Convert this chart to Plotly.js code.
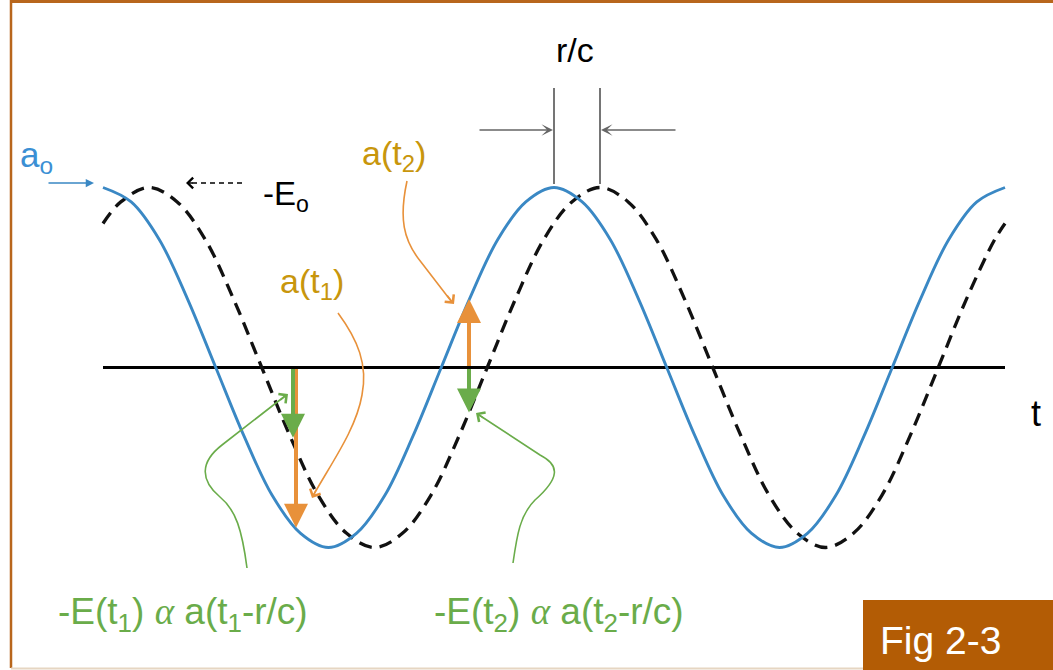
<!DOCTYPE html>
<html><head><meta charset="utf-8">
<script src="https://cdn.plot.ly/plotly-3.0.1.min.js"></script>
<style>html,body{margin:0;padding:0;background:#fff;overflow:hidden}#chart{width:1053px;height:670px}</style>
</head><body><div id="chart"></div>
<script>
// ---- data (time in periods, amplitude normalised) ----
const tA = [0,0.0625,0.125,0.1875,0.25,0.3125,0.375,0.4375,0.5,0.5625,0.625,0.6875,0.75,0.8125,0.875,0.9375,
            1,1.0625,1.125,1.1875,1.25,1.3125,1.375,1.4375,1.5,1.5625,1.625,1.6875,1.75,1.8125,1.875,1.9375,2];
const aVals = [1,0.92,0.71,0.38,0,-0.38,-0.71,-0.92,-1,-0.92,-0.71,-0.38,0,0.38,0.71,0.92,
               1,0.92,0.71,0.38,0,-0.38,-0.71,-0.92,-1,-0.92,-0.71,-0.38,0,0.38,0.71,0.92,1];
const tE = [0,0.0395,0.102,0.1645,0.227,0.2895,0.352,0.4145,0.477,0.5395,0.602,0.6645,0.727,0.7895,0.852,0.9145,0.977,
            1.0395,1.102,1.1645,1.227,1.2895,1.352,1.4145,1.477,1.5395,1.602,1.6645,1.727,1.7895,1.852,1.9145,1.977,2];
const eVals = [0.8,0.92,1,0.92,0.71,0.38,0,-0.38,-0.71,-0.92,-1,-0.92,-0.71,-0.38,0,0.38,0.71,
               0.92,1,0.92,0.71,0.38,0,-0.38,-0.71,-0.92,-1,-0.92,-0.71,-0.38,0,0.38,0.71,0.8];
const axisT = [0, 2];
const axisV = [0, 0];
const tMarks = [0.4235, 0.8115];      // t1, t2
const aAtT = [-0.89, 0.38];           // a(t1), a(t2)
const eAtT = [-0.39, -0.25];          // -E(t1), -E(t2)
const peakT = [1.0, 1.102];           // peaks of a and -E (r/c spacing)
const labels = {
  ao: 'a<sub>o</sub>', Eo: '-E<sub>o</sub>', rc: 'r/c',
  at1: 'a(t<sub>1</sub>)', at2: 'a(t<sub>2</sub>)', t: 't',
  e1: '-E(t<sub>1</sub>) <span style="font-family:\'Liberation Serif\',serif"><i>α</i></span> a(t<sub>1</sub>-r/c)',
  e2: '-E(t<sub>2</sub>) <span style="font-family:\'Liberation Serif\',serif"><i>α</i></span> a(t<sub>2</sub>-r/c)',
  fig: 'Fig 2-3'
};

// ---- styling / layout helpers ----
const W = 1053, H = 670;
const X0 = 103, PXU = 451, Y0 = 367.5, PYU = 180;
const xr = [-X0/PXU, (W-X0)/PXU];
const yr = [-(H-Y0)/PYU, Y0/PYU];
const px = x => x/W, py = y => 1 - y/H;
const BLUE = '#3a88c4', ORANGE = '#e8913a', GREEN = '#6aac4a', GOLD = '#c8960c', GREY = '#666666';
const FONT = 'Liberation Sans, Arial, sans-serif';

function path(cmds){
  return cmds.map(c => c[0] + ' ' + c.slice(1).map(p => px(p[0]).toFixed(5)+','+py(p[1]).toFixed(5)).join(' ')).join(' ');
}
function curve(cmds, color){
  return {type:'path', xref:'paper', yref:'paper', path:path(cmds), line:{color:color, width:1.6}, fillcolor:'rgba(0,0,0,0)'};
}
function head(x, y, ax, ay, color, style, size){
  return {xref:'paper', yref:'paper', x:px(x), y:py(y), ax:ax, ay:ay, showarrow:true, text:'',
          arrowhead:style||4, arrowsize:size||1.5, arrowwidth:1.5, arrowcolor:color, standoff:0};
}
function label(text, x, y, color, size, anchor){
  return {xref:'paper', yref:'paper', x:px(x), y:py(y), text:text, showarrow:false,
          xanchor:anchor||'left', yanchor:'middle', font:{family:FONT, size:size, color:color}};
}

const traces = [
  {x:axisT, y:axisV, mode:'lines', line:{color:'#000', width:3}, hoverinfo:'skip'},
  {x:tE, y:eVals, mode:'lines', line:{color:'#111', width:3.3, dash:'13px,8px', shape:'spline', smoothing:1}, hoverinfo:'skip'},
  {x:tA, y:aVals, mode:'lines', line:{color:BLUE, width:2.9, shape:'spline', smoothing:1}, hoverinfo:'skip'}
];

const shapes = [
  // frame
  {type:'line', xref:'paper', yref:'paper', x0:px(11), x1:px(1053), y0:py(1.5), y1:py(1.5), line:{color:'#b8661c', width:3}},
  {type:'line', xref:'paper', yref:'paper', x0:px(11), x1:px(11), y0:py(0), y1:py(668), line:{color:'#b8661c', width:2.5}},
  {type:'line', xref:'paper', yref:'paper', x0:px(11), x1:px(1053), y0:py(668.5), y1:py(668.5), line:{color:'#e6d6c2', width:2}},
  {type:'rect', xref:'paper', yref:'paper', x0:px(863), x1:px(1053), y0:py(600), y1:py(670), fillcolor:'#b35c05', line:{width:0}},
  // r/c markers
  {type:'line', xref:'x', yref:'paper', x0:peakT[0], x1:peakT[0], y0:py(88), y1:py(184), line:{color:GREY, width:1.8}},
  {type:'line', xref:'x', yref:'paper', x0:peakT[1], x1:peakT[1], y0:py(88), y1:py(184), line:{color:GREY, width:1.8}},
  // dashed -Eo pointer
  {type:'line', xref:'paper', yref:'paper', x0:px(242), x1:px(192), y0:py(183), y1:py(183), line:{color:'#000', width:1.6, dash:'5px,4px'}},
  // curved leaders
  curve([['M',[407,181]],['C',[399,218],[403,240],[421,262]],['L',[451,301]]], ORANGE),
  curve([['M',[338,313]],['C',[358,340],[368,365],[362,395]],['C',[356,430],[330,465],[313,496]]], ORANGE),
  curve([['M',[247,568]],['C',[242,530],[236,510],[220,497]],['C',[200,480],[200,462],[222,445]],['L',[285,396]]], GREEN),
  curve([['M',[513,563]],['C',[517,535],[520,515],[535,500]],['C',[560,478],[560,465],[540,455]],['L',[479,415]]], GREEN)
];

const annotations = [
  // thick value arrows
  {x:tMarks[0], y:aAtT[0], ax:tMarks[0], ay:0, xref:'x', yref:'y', axref:'x', ayref:'y', showarrow:true, text:'',
   arrowhead:2, arrowsize:1.2, arrowwidth:4, arrowcolor:ORANGE, standoff:0, xshift:2},
  {x:tMarks[1], y:aAtT[1], ax:tMarks[1], ay:0, xref:'x', yref:'y', axref:'x', ayref:'y', showarrow:true, text:'',
   arrowhead:2, arrowsize:1.2, arrowwidth:4, arrowcolor:ORANGE, standoff:0},
  {x:tMarks[0], y:eAtT[0], ax:tMarks[0], ay:0, xref:'x', yref:'y', axref:'x', ayref:'y', showarrow:true, text:'',
   arrowhead:2, arrowsize:1.2, arrowwidth:4, arrowcolor:GREEN, standoff:0, xshift:-1},
  {x:tMarks[1], y:eAtT[1], ax:tMarks[1], ay:0, xref:'x', yref:'y', axref:'x', ayref:'y', showarrow:true, text:'',
   arrowhead:2, arrowsize:1.2, arrowwidth:4, arrowcolor:GREEN, standoff:0},
  // r/c arrows
  {xref:'x', yref:'paper', x:peakT[0], y:py(130), ax:-76, ay:0, showarrow:true, text:'', arrowhead:3, arrowsize:1.2, arrowwidth:1.6, arrowcolor:GREY, standoff:1},
  {xref:'x', yref:'paper', x:peakT[1], y:py(130), ax:77, ay:0, showarrow:true, text:'', arrowhead:3, arrowsize:1.2, arrowwidth:1.6, arrowcolor:GREY, standoff:1},
  // a_o, -E_o pointers
  head(94, 183, -47, 0, BLUE, 2, 1.1),
  head(186, 183, 8, 0, '#000', 4, 1.4),
  // leader heads
  head(454, 304, -8, -10, ORANGE),
  head(312, 498, 5, -10, ORANGE),
  head(288, 394, -9, 7, GREEN),
  head(476, 413, 9, 6, GREEN),
  // labels
  label(labels.ao, 18, 157, '#3b8fd4', 35),
  label(labels.Eo, 261, 196, '#000', 33),
  label(labels.rc, 575, 50, '#000', 34, 'center'),
  label(labels.at2, 360, 156, GOLD, 34),
  label(labels.at1, 278, 284, GOLD, 34),
  label(labels.t, 1036, 413, '#000', 36, 'center'),
  label(labels.e1, 56, 614, GREEN, 37),
  label(labels.e2, 432, 614, GREEN, 37),
  label(labels.fig, 940, 640, '#ffffff', 39, 'center')
];

const layout = {
  width:W, height:H, margin:{l:0, r:0, t:0, b:0}, showlegend:false,
  paper_bgcolor:'#fff', plot_bgcolor:'#fff',
  xaxis:{range:xr, visible:false, fixedrange:true},
  yaxis:{range:yr, visible:false, fixedrange:true},
  shapes:shapes, annotations:annotations
};
Plotly.newPlot('chart', traces, layout, {staticPlot:true, displayModeBar:false});
</script></body></html>
